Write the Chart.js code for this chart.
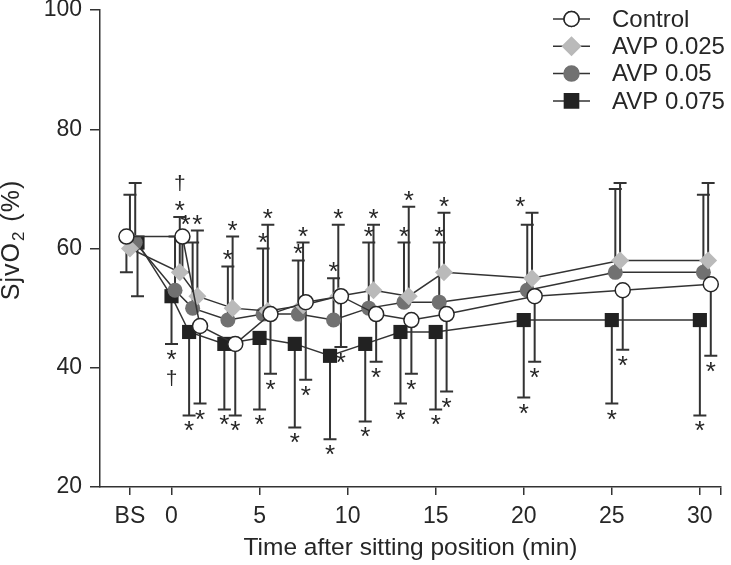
<!DOCTYPE html>
<html>
<head>
<meta charset="utf-8">
<script src="https://cdn.jsdelivr.net/npm/chart.js@4.4.0/dist/chart.umd.min.js"></script>
<style>
  html, body { margin: 0; padding: 0; background: #fff; }
  #wrap { width: 731px; height: 565px; }
</style>
</head>
<body>
<div id="wrap"><canvas id="sjvChart"></canvas></div>
<script>
// time points (min after sitting), BS = baseline supine
const times = ['BS', 0, 1, 3, 5, 7, 9, 11, 13, 15, 20, 25, 30];
const xTickLabels = ['BS', 0, 5, 10, 15, 20, 25, 30];
const yTicks = [20, 40, 60, 80, 100];

const control = [62, 62, 47, 44, 49, 51, 52, 49, 48, 49, 52, 53, 54];
const controlSD = [6, 6, 13, 12, 10, 13, 8.5, 8, 9, 13, 11, 10, 12];
const controlMarks = ['', '', '*', '*', '*', '*', '*', '*', '*', '*', '*', '*', '*'];

const avp025 = [60, 56, 52, 50, 49.5, 50.5, 52, 53, 52, 56, 55, 58, 58];
const avp025SD = [9, 9.3, 11, 12, 14.5, 10.5, 12, 11, 15, 10, 11, 13, 13];
const avp025Marks = ['', '*†', '*', '*', '*', '*', '*', '*', '*', '*', '', '', ''];

const avp05 = [61, 53, 50, 48, 49, 49, 48, 50, 51, 51, 53, 56, 56];
const avp05SD = [10, 9, 11, 9, 11, 9, 7, 11, 10, 10, 11, 14, 13];
const avp05Marks = ['', '', '*', '*', '*', '*', '*', '*', '*', '*', '*', '', ''];

const avp075 = [61, 52, 46, 44, 45, 44, 42, 44, 46, 46, 48, 48, 48];
const avp075SD = [9, 8, 14, 11, 12, 14, 14, 13, 12, 13, 13, 14, 16];
const avp075Marks = ['', '*†', '*', '*', '*', '*', '*', '*', '*', '*', '*', '*', '*'];

const BS_AT = -2.36; // where "BS" sits on the time axis
const FONT = 'Arial, "Liberation Sans", Helvetica, sans-serif';
const INK = '#262626';

function axisPos(t) { return t === 'BS' ? BS_AT : t; }

function points(values, shift, bsShift) {
  return values.map((v, i) => ({
    x: axisPos(times[i]) + (times[i] === 'BS' ? bsShift : shift),
    y: v
  }));
}

function series(label, values, sd, marks, dir, shift, bsShift, style) {
  return Object.assign({
    label: label,
    data: points(values, shift, bsShift),
    sd: sd, marks: marks, dir: dir,
    borderColor: '#333',
    borderWidth: 1.5,
    pointBorderWidth: 1.5,
    pointHoverRadius: 8,
    tension: 0
  }, style);
}

const datasets = [
  series('Control', control, controlSD, controlMarks, -1, 0.62, -0.2,
    { pointStyle: 'circle', pointRadius: 7.5, pointBackgroundColor: '#fff', pointBorderColor: INK }),
  series('AVP 0.025', avp025, avp025SD, avp025Marks, 1, 0.47, 0,
    { pointStyle: 'rectRot', pointRadius: 9, pointBackgroundColor: '#bababa', pointBorderColor: '#bababa', pointBorderWidth: 0 }),
  series('AVP 0.05', avp05, avp05SD, avp05Marks, 1, 0.2, 0.3,
    { pointStyle: 'circle', pointRadius: 7.5, pointBackgroundColor: '#717171', pointBorderColor: '#717171', pointBorderWidth: 0 }),
  series('AVP 0.075', avp075, avp075SD, avp075Marks, -1, 0, 0.43,
    { pointStyle: 'rect', pointRadius: 10, pointBackgroundColor: '#222', pointBorderColor: '#222', pointBorderWidth: 0 })
];

function drawGlyph(ctx, ch, x, cy) {
  const m = ctx.measureText(ch);
  const asc = m.actualBoundingBoxAscent, desc = m.actualBoundingBoxDescent;
  ctx.fillText(ch, x, cy + (asc - desc) / 2);
}

function barEnds(chart) {
  const { x, y } = chart.scales;
  return chart.data.datasets.map(ds => ds.data.map((p, j) => ({
    px: x.getPixelForValue(p.x),
    py: y.getPixelForValue(p.y),
    pe: y.getPixelForValue(p.y + ds.dir * ds.sd[j])
  })));
}

const errorBars = {
  id: 'errorBars',
  beforeDatasetsDraw(chart) {
    const ctx = chart.ctx;
    const ends = barEnds(chart);
    ctx.save();
    ctx.strokeStyle = '#333';
    ctx.lineWidth = 2;
    ends.forEach(row => row.forEach(e => {
      ctx.beginPath();
      ctx.moveTo(e.px, e.py);
      ctx.lineTo(e.px, e.pe);
      ctx.moveTo(e.px - 6.5, e.pe);
      ctx.lineTo(e.px + 6.5, e.pe);
      ctx.stroke();
    }));
    ctx.restore();
  },
  afterDatasetsDraw(chart) {
    const ctx = chart.ctx;
    const ends = barEnds(chart);
    const sets = chart.data.datasets;
    ctx.save();
    ctx.fillStyle = INK;
    ctx.textAlign = 'center';
    ctx.textBaseline = 'alphabetic';
    sets.forEach((ds, i) => {
      ds.data.forEach((p, j) => {
        const marks = ds.marks[j];
        if (!marks) return;
        const e = ends[i][j];
        const up = ds.dir > 0 ? -1 : 1; // pixel direction away from the mean
        let sx = e.px, sy = e.pe + up * 11;
        // lift the mark over a neighbouring cap that would sit right on it
        sets.forEach((other, k) => {
          if (k === i || other.dir !== ds.dir) return;
          const o = ends[k][j];
          if (Math.abs(o.px - e.px) < 10 && (o.pe - e.pe) * up > 0 && Math.abs(sy - o.pe) < 6) {
            sy = o.pe + up * 11;
            sx = e.px + 7 * Math.sign(e.px - o.px);
          }
        });
        [...marks].forEach((ch, k) => {
          ctx.font = (ch === '*' ? '26px ' : '21px ') + FONT;
          drawGlyph(ctx, ch, sx, sy + up * k * 23);
        });
      });
    });
    ctx.restore();
  },
  afterDraw(chart) {
    const ctx = chart.ctx;
    const sets = chart.data.datasets;
    ctx.save();
    // y axis title with a real subscript
    ctx.translate(18.5, 240);
    ctx.rotate(-Math.PI / 2);
    ctx.fillStyle = INK;
    ctx.textBaseline = 'alphabetic';
    ctx.textAlign = 'left';
    if ('letterSpacing' in ctx) ctx.letterSpacing = '1px';
    const parts = [['SjvO', 25, 0], ['2', 17, 5], [' (%)', 25, 0]];
    let total = 0;
    parts.forEach(pt => { ctx.font = pt[1] + 'px ' + FONT; total += ctx.measureText(pt[0]).width + (pt[1] < 20 ? 2 : 0); });
    let tx = -total / 2;
    parts.forEach(pt => {
      ctx.font = pt[1] + 'px ' + FONT;
      if (pt[1] < 20) tx += 1;
      ctx.fillText(pt[0], tx, pt[2]);
      tx += ctx.measureText(pt[0]).width + (pt[1] < 20 ? 1 : 0);
    });
    ctx.restore();

    // legend: line through marker, like the printed figure
    ctx.save();
    sets.forEach((ds, i) => {
      const cy = 19 + i * 27.3;
      ctx.strokeStyle = '#333';
      ctx.lineWidth = 1.5;
      ctx.beginPath();
      ctx.moveTo(553, cy);
      ctx.lineTo(590, cy);
      ctx.stroke();
      Chart.helpers.drawPoint(ctx, {
        pointStyle: ds.pointStyle,
        radius: ds.pointRadius,
        borderWidth: ds.pointBorderWidth,
        rotation: 0
      }, 571.5, cy);
      ctx.fillStyle = ds.pointBackgroundColor;
      ctx.strokeStyle = ds.pointBorderColor;
      ctx.lineWidth = ds.pointBorderWidth;
      ctx.fill();
      if (ctx.lineWidth > 0) ctx.stroke();
      ctx.fillStyle = INK;
      ctx.font = '24px ' + FONT;
      ctx.textAlign = 'left';
      ctx.textBaseline = 'middle';
      ctx.fillText(ds.label, 612, cy + 1);
    });
    ctx.restore();
  }
};

new Chart(document.getElementById('sjvChart'), {
  type: 'line',
  data: { datasets: datasets },
  options: {
    responsive: true,
    maintainAspectRatio: false,
    animation: false,
    layout: { padding: { top: 10, right: 8, left: 0, bottom: 0 } },
    plugins: {
      legend: { display: false },
      tooltip: { enabled: true }
    },
    scales: {
      x: {
        type: 'linear',
        min: -4.06,
        max: 31.2,
        afterFit(scale) { scale.height = 78; },
        afterBuildTicks(scale) {
          scale.ticks = xTickLabels.map(t => ({ value: axisPos(t) })).concat([{ value: 31.2 }]);
        },
        ticks: {
          autoSkip: false,
          maxRotation: 0,
          padding: 8,
          color: INK,
          font: { family: FONT, size: 23 },
          callback: (v, i) => (i < xTickLabels.length ? String(xTickLabels[i]) : '')
        },
        grid: { display: true, drawOnChartArea: false, drawTicks: true, tickLength: 8, color: '#333', lineWidth: 1.5 },
        border: { display: true, color: '#333', width: 1.5 },
        title: {
          display: true,
          text: 'Time after sitting position (min)',
          color: INK,
          font: { family: FONT, size: 24.5 },
          padding: { top: 0, bottom: 2 }
        }
      },
      y: {
        min: 20,
        max: 100,
        afterFit(scale) { scale.width = 100; scale.paddingTop = 0; },
        afterBuildTicks(scale) {
          scale.ticks = yTicks.map(v => ({ value: v }));
        },
        ticks: {
          padding: 8,
          color: INK,
          font: { family: FONT, size: 23, lineHeight: 0.8 }
        },
        grid: { display: true, drawOnChartArea: false, drawTicks: true, tickLength: 10, color: '#333', lineWidth: 1.5 },
        border: { display: true, color: '#333', width: 1.5 }
      }
    }
  },
  plugins: [errorBars]
});
</script>
</body>
</html>
